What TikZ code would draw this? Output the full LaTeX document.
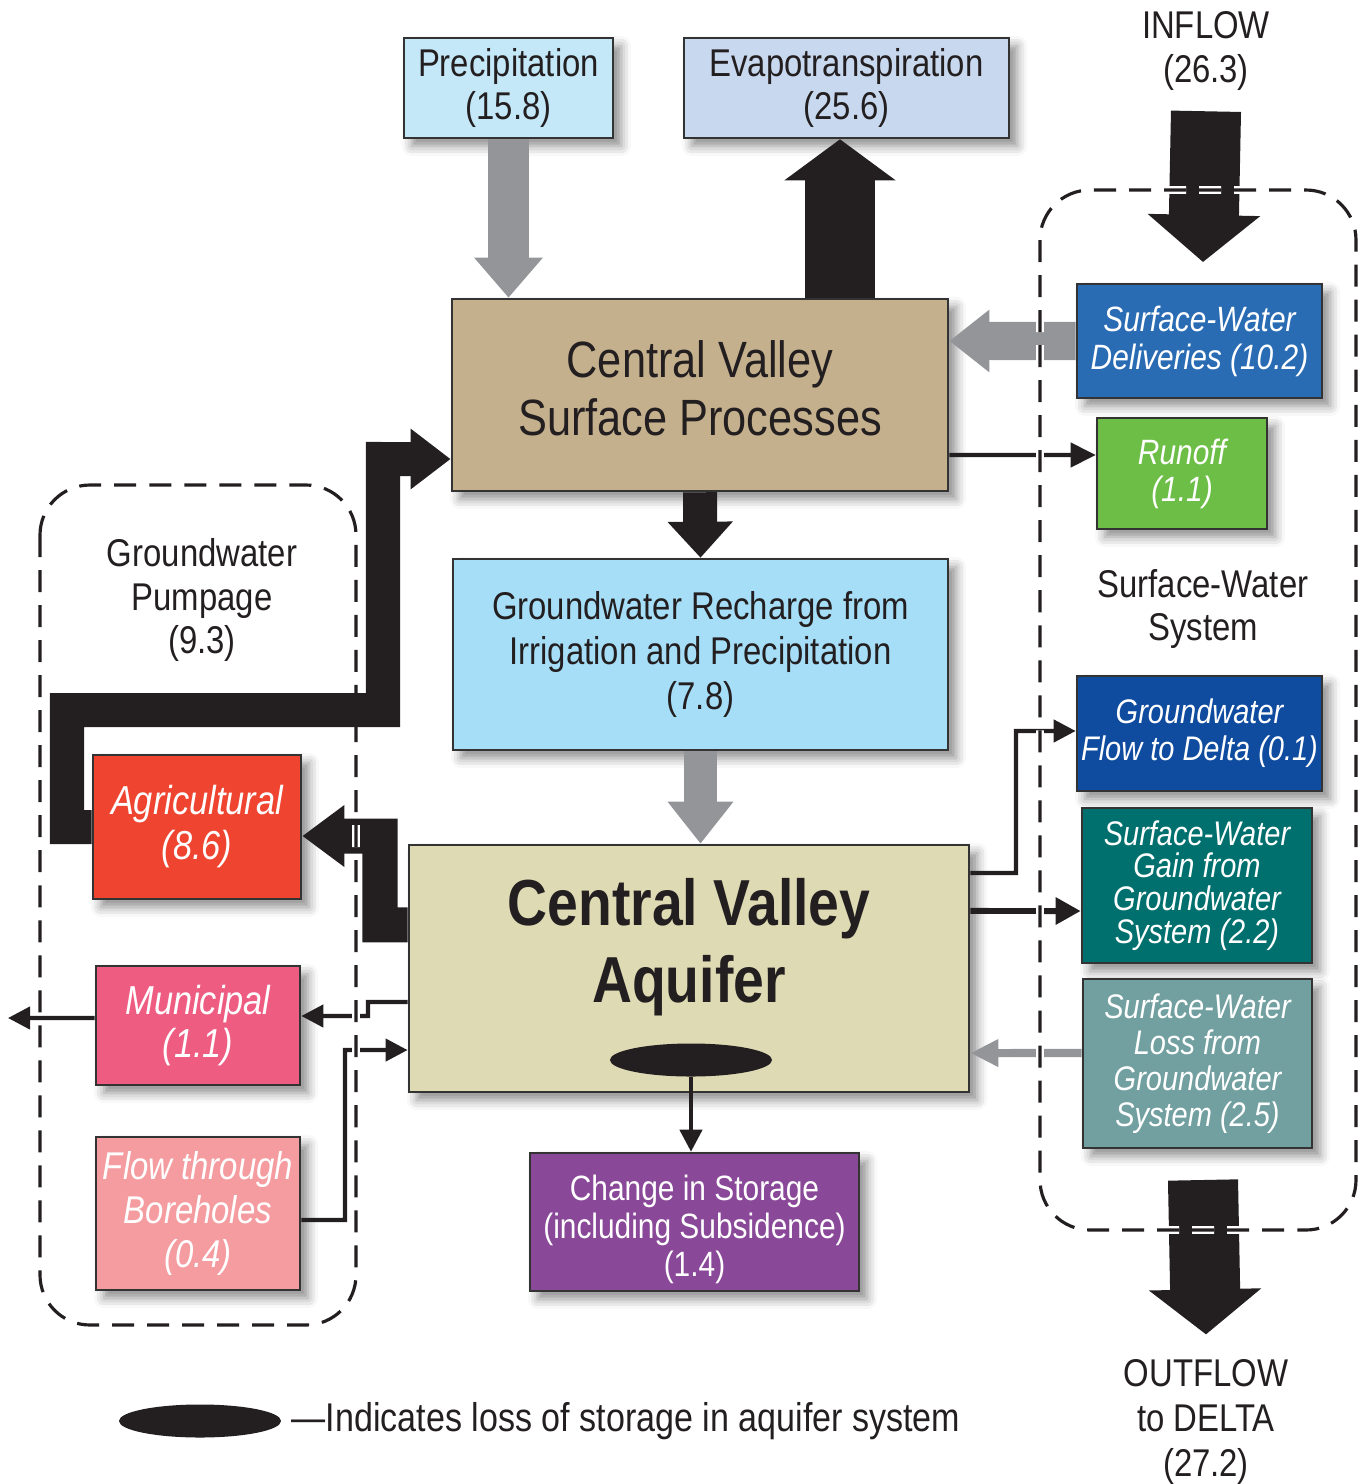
\documentclass[tikz,border=0pt]{standalone}
\usepackage{fontspec}
\setmainfont{Liberation Sans}[FakeStretch=0.85]
\usetikzlibrary{arrows.meta,shapes.geometric,shadows.blur}

\definecolor{ink}{HTML}{231F20}
\definecolor{edge}{HTML}{333333}
\definecolor{flowgray}{HTML}{939598}
\definecolor{precfill}{HTML}{C4E8F8}
\definecolor{etfill}{HTML}{C8D8EE}
\definecolor{procfill}{HTML}{C5B08E}
\definecolor{rechfill}{HTML}{A6DEF7}
\definecolor{aqfill}{HTML}{DEDAB4}
\definecolor{storefill}{HTML}{8A4899}
\definecolor{agrifill}{HTML}{EE4430}
\definecolor{munifill}{HTML}{EE5C82}
\definecolor{borefill}{HTML}{F49C9F}
\definecolor{delivfill}{HTML}{2A6CB4}
\definecolor{runofffill}{HTML}{6DBE46}
\definecolor{gwdfill}{HTML}{0F4B9F}
\definecolor{gainfill}{HTML}{00706E}
\definecolor{lossfill}{HTML}{72A0A1}

\tikzset{
  box/.style={draw=edge, line width=0.7pt, inner sep=0pt, align=center,
    blur shadow={shadow xshift=0.08cm, shadow yshift=-0.08cm, shadow blur radius=0.1cm, shadow opacity=45}},
  lbl/.style={align=center, text=ink, font=\fontsize{11}{12.7}\selectfont},
  ital/.style 2 args={text=white, font=\fontsize{#1}{#2}\selectfont\itshape},
  fat/.style={line width=#1, line cap=butt, line join=miter},
  thin/.style={draw=ink, line width=1.2pt, -{Triangle[length=0.22cm, width=0.22cm]}},
  region/.style={rounded corners=0.5cm, draw=ink, line width=0.9pt, dash pattern=on 0.22cm off 0.13cm,
    preaction={draw=white, line width=2.2pt, dash pattern=on 0.22cm off 0.13cm}},
}

\begin{document}
\begin{tikzpicture}[x=0.01cm, y=-0.01cm]
\useasboundingbox (0,0) rectangle (1367,1484);

% boxes
\node[box, fill=precfill, minimum width=2.09cm, minimum height=1cm, lbl, font=\fontsize{11}{12.3}\selectfont] (prec) at (508.5,88) {Precipitation\\(15.8)};
\node[box, fill=etfill, minimum width=3.25cm, minimum height=1cm, lbl, font=\fontsize{11}{12.3}\selectfont] (et) at (846.5,88) {Evapotranspiration\\(25.6)};
\node[box, fill=procfill, minimum width=4.96cm, minimum height=1.92cm] (proc) at (700,395) {};
\node[text=ink, align=center, font=\fontsize{14.5}{16.4}\selectfont] (proctitle) at (700,388) {Central Valley\\Surface Processes};
\node[box, fill=rechfill, minimum width=4.95cm, minimum height=1.91cm, lbl] (rech) at (700.5,654.5) {Groundwater Recharge from\\Irrigation and Precipitation\\(7.8)};
\node[box, fill=aqfill, minimum width=5.6cm, minimum height=2.47cm] (aq) at (689,968.5) {};
\node[text=ink, align=center, font=\fontsize{18.5}{22}\selectfont\bfseries] (aqtitle) at (689,947) {Central Valley\\Aquifer};
\node[box, fill=storefill, minimum width=3.29cm, minimum height=1.38cm] (store) at (694.5,1222) {};
\node[text=white, align=center, font=\fontsize{10}{10.8}\selectfont] (storetext) at (694.5,1229) {Change in Storage\\(including Subsidence)\\(1.4)};

\node[box, fill=agrifill, minimum width=2.08cm, minimum height=1.44cm, ital={11.5}{12.8}] (agri) at (197,827) {Agricultural\\(8.6)};
\node[box, fill=munifill, minimum width=2.04cm, minimum height=1.19cm, ital={11.5}{12.2}] (muni) at (198,1025.5) {Municipal\\(1.1)};
\node[box, fill=borefill, minimum width=2.04cm, minimum height=1.53cm, ital={11}{12.5}] (bore) at (198,1213.5) {Flow through\\Boreholes\\(0.4)};

\node[box, fill=delivfill, minimum width=2.45cm, minimum height=1.14cm, ital={10}{10.8}] (deliv) at (1199.5,341) {Surface-Water\\Deliveries (10.2)};
\node[box, fill=runofffill, minimum width=1.7cm, minimum height=1.11cm, ital={10}{10.5}] (runoff) at (1182,473.5) {Runoff\\(1.1)};
\node[box, fill=gwdfill, minimum width=2.45cm, minimum height=1.15cm, ital={9.7}{10.5}] (gwd) at (1199.5,733.5) {Groundwater\\Flow to Delta (0.1)};
\node[box, fill=gainfill, minimum width=2.3cm, minimum height=1.55cm, ital={9.7}{9.3}] (gain) at (1197,885.5) {Surface-Water\\Gain from\\Groundwater\\System (2.2)};
\node[box, fill=lossfill, minimum width=2.29cm, minimum height=1.69cm, ital={9.7}{10.2}] (loss) at (1197.5,1063.5) {Surface-Water\\Loss from\\Groundwater\\System (2.5)};

\node[ellipse, fill=ink, inner sep=0pt, minimum width=1.62cm, minimum height=0.33cm] (storeloss) at (691,1060) {};

% labels
\node[lbl, font=\fontsize{11}{12.5}\selectfont] (pumplbl) at (202,600) {Groundwater\\Pumpage\\(9.3)};
\node[lbl, font=\fontsize{11}{12.3}\selectfont] (swslbl) at (1203,609) {Surface-Water\\System};
\node[lbl] (inflow) at (1206,51) {INFLOW\\(26.3)};
\node[lbl] (outflow) at (1206,1422) {OUTFLOW\\to DELTA\\(27.2)};
\coordinate (inflow tip) at (1203,262);
\coordinate (outflow base) at (1203,1180);
\coordinate (west out) at (8,1018);
\coordinate (etfoot) at ([xshift=-0.065cm]et.south);

% big flows
\draw[fat=0.40cm, draw=flowgray, -{Triangle[length=0.40cm, width=0.66cm]}] (prec.south) -- (prec.south |- proc.north);
\draw[fat=0.69cm, draw=ink, -{Triangle[length=0.41cm, width=1.09cm]}] (etfoot |- proc.north) -- (etfoot);
\draw[fat=0.34cm, draw=ink, -{Triangle[length=0.36cm, width=0.63cm]}] (proc.south) -- (rech.north);
\draw[fat=0.32cm, draw=flowgray, -{Triangle[length=0.42cm, width=0.63cm]}] (rech.south) -- (rech.south |- aq.north);
\draw[fat=0.38cm, draw=flowgray, -{Triangle[length=0.40cm, width=0.60cm]}] (deliv.west) -- ([yshift=0.54cm]proc.east);
\draw[fat=0.70cm, draw=ink, -{Triangle[length=0.47cm, width=1.10cm]}] ([yshift=-0.08cm]inflow.south) -- (inflow tip);
\draw[fat=0.70cm, draw=ink, -{Triangle[length=0.45cm, width=1.10cm]}] (outflow base) -- ([yshift=0.13cm]outflow.north);
\draw[fat=0.35cm, draw=ink, -{Triangle[length=0.42cm, width=0.59cm]}] ([yshift=0.435cm]aq.west) -| (380,836) -- ([yshift=-0.09cm]agri.east);

% thin flows
\draw[thin, -{Triangle[length=0.25cm, width=0.24cm]}] ([yshift=-0.6cm]proc.east) -- ([yshift=0.185cm]runoff.west);
\draw[thin] ([yshift=-0.335cm]aq.west) -| (368,1016) -- ([yshift=0.095cm]muni.east);
\draw[thin] ([yshift=0.075cm]muni.west) -- (west out);
\draw[thin] ([yshift=-0.065cm]bore.east) -| (345,1050) -- ([yshift=-0.815cm]aq.west);
\draw[thin] ([yshift=0.955cm]aq.east) -| (1016,731) -- ([yshift=0.025cm]gwd.west);
\draw[thin, line width=1.7pt, -{Triangle[length=0.25cm, width=0.26cm]}] ([yshift=0.575cm]aq.east) -- ([yshift=-0.255cm]gain.west);
\draw[thin, draw=flowgray, line width=2.3pt, -{Triangle[length=0.28cm, width=0.26cm]}] ([yshift=0.105cm]loss.west) -- ([yshift=-0.845cm]aq.east);
\draw[thin] (storeloss.south) -- (storeloss.south |- store.north);

% dashed systems
\draw[region] (40,485) rectangle (356,1325);
\draw[region] (1040,190) rectangle (1356,1230);

% pumpage goes over the dashed line
\draw[fat=0.34cm, draw=ink, -{Triangle[length=0.40cm, width=0.58cm]}] (agri.west) -| (67,710) -| (383,459) -- ([yshift=-0.64cm]proc.west);

% key
\node[ellipse, fill=ink, inner sep=0pt, minimum width=1.62cm, minimum height=0.33cm] (keyoval) at (200,1421) {};
\node[lbl, anchor=west, inner sep=0pt, font=\fontsize{11.4}{13}\selectfont] (keytext) at (291,1421) {\textemdash Indicates loss of storage in aquifer system};
\end{tikzpicture}
\end{document}
